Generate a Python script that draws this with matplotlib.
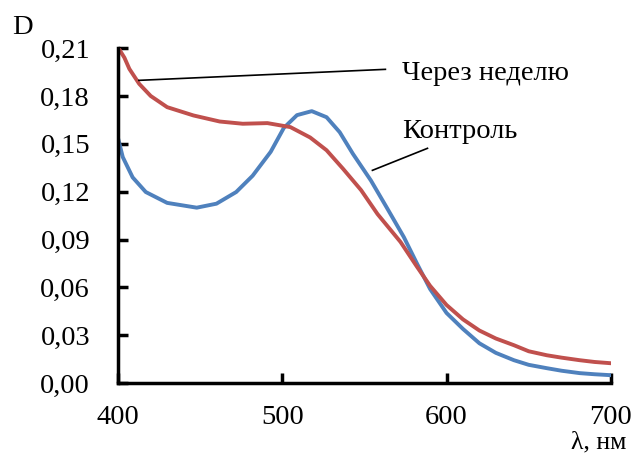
import matplotlib
matplotlib.use("Agg")
import matplotlib.pyplot as plt
from matplotlib.ticker import FuncFormatter

# "Через неделю" (red): wavelength, nm / optical density
wl_week = [400, 401, 404, 407, 413, 420, 430, 446, 462, 476, 491, 505, 517,
           527, 537, 548, 558, 572, 582, 590, 600, 610, 620, 630, 641, 650,
           661, 670, 681, 690, 700]
d_week = [0.210, 0.209, 0.204, 0.197, 0.1876, 0.180, 0.173, 0.1678, 0.164,
          0.1626, 0.163, 0.1605, 0.154, 0.146, 0.1344, 0.121, 0.106, 0.0885,
          0.073, 0.061, 0.049, 0.040, 0.033, 0.028, 0.0238, 0.020, 0.0175,
          0.016, 0.0144, 0.0133, 0.0125]

# "Контроль" (blue)
wl_control = [400, 403, 409, 417, 430, 448, 460, 472, 482, 493, 501, 509,
              518, 527, 535, 543, 554, 564, 574, 582, 590, 600, 610, 620,
              630, 641, 650, 661, 670, 681, 690, 700]
d_control = [0.154, 0.1417, 0.129, 0.1198, 0.113, 0.110, 0.1125, 0.1198,
             0.130, 0.145, 0.160, 0.168, 0.1705, 0.1667, 0.1573, 0.1438,
             0.127, 0.1094, 0.0916, 0.075, 0.059, 0.044, 0.034, 0.025, 0.019,
             0.0144, 0.0115, 0.0094, 0.0078, 0.0063, 0.0056, 0.005]

x_ticks = [400, 500, 600, 700]
y_ticks = [0.00, 0.03, 0.06, 0.09, 0.12, 0.15, 0.18, 0.21]

RED = "#C0504D"
BLUE = "#4F81BD"
FS = 20.5

plt.rcParams["font.family"] = ["Liberation Serif", "DejaVu Serif"]

fig = plt.figure(figsize=(6.37, 4.54), dpi=100, facecolor="white")
ax = fig.add_axes([0.185, 0.156, 0.774, 0.738])

ax.plot(wl_control, d_control, color=BLUE, lw=2.8, solid_capstyle="round")
ax.plot(wl_week, d_week, color=RED, lw=2.8, solid_capstyle="round")

ax.set_xlim(400, 700)
ax.set_ylim(0, 0.21)
ax.set_xticks(x_ticks)
ax.set_yticks(y_ticks)
ax.yaxis.set_major_formatter(FuncFormatter(lambda v, _: f"{v:.2f}".replace(".", ",")))

for side in ("top", "right"):
    ax.spines[side].set_visible(False)
for side in ("left", "bottom"):
    ax.spines[side].set_linewidth(2.5)
ax.tick_params(direction="in", length=7, width=2.5, labelsize=FS)
ax.tick_params(axis="y", pad=20)
ax.tick_params(axis="x", pad=16)

# callout lines and labels
ax.plot([412.8, 562.8], [0.1898, 0.1967], color="black", lw=1.2, clip_on=False)
ax.plot([554.9, 588.4], [0.1334, 0.1472], color="black", lw=1.2, clip_on=False)
ax.text(573, 0.194, "Через неделю", fontsize=FS, ha="left", va="center")
ax.text(573, 0.158, "Контроль", fontsize=FS, ha="left", va="center")

fig.text(22 / 637, 1 - 27 / 454, "D", fontsize=FS, ha="center", va="center")
fig.text(626 / 637, 1 - 453 / 454, "λ, нм", fontsize=18.5, ha="right", va="bottom")

fig.savefig("out.png", dpi=100, facecolor="white")
